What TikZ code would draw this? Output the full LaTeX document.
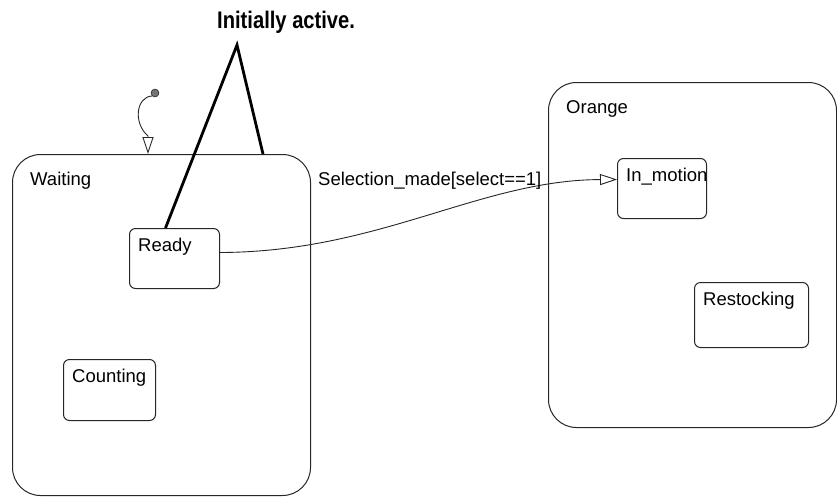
\documentclass[tikz,border=0pt]{standalone}
\usepackage{fontspec}
\setmainfont{Liberation Sans}
\newfontfamily\notefont[FakeStretch=0.84]{Liberation Sans}
\usetikzlibrary{arrows.meta, calc}

\begin{document}
\begin{tikzpicture}[
        x=1pt, y=-1pt,
        font=\fontsize{18.5}{22}\selectfont,
        >={Triangle[open, length=17pt, width=11pt]},
        dot/.style={circle, draw=black, fill=black!55, inner sep=0pt, minimum size=8pt},
        superstate/.style={draw=black!85, line width=1pt, rounded corners=28pt, anchor=north west, inner sep=0pt,
            label={[anchor=north west, inner sep=0pt, xshift=18pt, yshift=-18pt]north west:#1}},
        state/.style={draw=black!85, line width=1pt, rounded corners=6pt, anchor=north west, inner sep=0pt,
            label={[anchor=north west, inner sep=0pt, xshift=9pt, yshift=-10pt]north west:#1}},
        trans/.style={->, line width=0.9pt, black!85},
        note/.style={line width=2.8pt, black}
    ]

        \useasboundingbox (0,0) rectangle (837,498);

% Superstates
        \node[superstate=Waiting, minimum width=298pt, minimum height=341pt] (waiting) at (12,154) {};
        \node[superstate=Orange, minimum width=288pt, minimum height=345pt] (orange) at (548,82) {};

% Substates
        \node[state=Ready, minimum width=90pt, minimum height=60pt] (ready) at (129,228) {};
        \node[state=Counting, minimum width=92pt, minimum height=61pt] (counting) at (63,359) {};
        \node[state=In\_motion, minimum width=89pt, minimum height=60pt] (inmotion) at (617,158) {};
        \node[state=Restocking, minimum width=114pt, minimum height=65pt] (restocking) at (694,282) {};

% Default transition
        \node[dot] (init) at (155,93) {};
        \draw[trans] (init.south west) .. controls (136,97) and (133,123) .. (148,136)
            -- ($(waiting.north west)+(136,0)$);

% Transition Ready -> In_motion
        \draw[trans] ([yshift=6pt]ready.east) .. controls (380,252) and (480,180) .. ([yshift=9pt]inmotion.west);
        \node[anchor=north west, inner sep=0pt] (guard) at (318,172) {Selection\_made[select==1]};

% Note
        \node[anchor=base west, inner sep=0pt, font=\notefont\fontsize{24}{27}\selectfont\bfseries] (note) at (217,28) {Initially active.};
        \coordinate (tip) at (237,45);
        \draw[note] ([xshift=-9pt]ready.north) -- (tip) -- ($(waiting.north west)+(251,0)$);
    \end{tikzpicture}
\end{document}
